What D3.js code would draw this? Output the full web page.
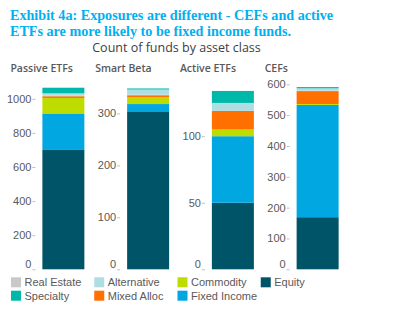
<!DOCTYPE html>
<html lang="en">
<head>
<meta charset="UTF-8">
<script src="https://d3js.org/d3.v7.min.js"></script>
<title>Count of funds by asset class</title>
<style>
  body {margin: 0; background: #fff;}
  svg text {font-family: "Liberation Sans", Arial, sans-serif;}
  .title {font-family: "Liberation Serif", "Times New Roman", serif !important; font-weight: bold; fill: #00b0f0; font-size: 14.5px;}
  .sub {font-family: "Open Sans", sans-serif !important; fill: #404040; font-size: 12.5px;}
  .panel {font-family: "Open Sans", sans-serif !important; fill: #595959; font-size: 10.5px; font-weight: 600;}
  .axis text {fill: #595959; font-size: 11px;}
  .axis line {stroke: #bfbfbf;}
  .legend text {fill: #595959; font-size: 11px;}
</style>
</head>
<body>
<svg></svg>
<script>
var categories = ["Passive ETFs", "Smart Beta", "Active ETFs", "CEFs"];
var seriesNames = ["Equity", "Fixed Income", "Commodity", "Mixed Alloc", "Real Estate", "Alternative", "Specialty"];
var equity      = [700, 304, 50, 169];
var fixedIncome = [214, 14, 50, 364];
var commodity   = [91, 13, 5, 3];
var mixedAlloc  = [10, 4, 14, 42];
var realEstate  = [3, 1, 0, 2];
var alternative = [14, 10, 6, 7];
var specialty   = [33, 2, 9, 4];
var axisMax = [1085, 356, 139, 600];
var tickValues = [[0, 200, 400, 600, 800, 1000], [0, 100, 200, 300], [0, 50, 100], [0, 100, 200, 300, 400, 500, 600]];
var legendOrder = ["Real Estate", "Alternative", "Commodity", "Equity", "Specialty", "Mixed Alloc", "Fixed Income"];

var colors = {
    "Equity": "#005468",
    "Fixed Income": "#00a7e1",
    "Commodity": "#bedc00",
    "Mixed Alloc": "#ff7000",
    "Real Estate": "#c8c8c8",
    "Alternative": "#aedee2",
    "Specialty": "#00b8aa"
};

var W = 415, H = 322;
var plotTop = 84.3, plotBottom = 269.3;
var barW = 42;

var svg = d3.select("svg").attr("width", W).attr("height", H);

// table for the stack
var rows = categories.map(function(c, i) {
    return {cat: c, "Equity": equity[i], "Fixed Income": fixedIncome[i], "Commodity": commodity[i],
        "Mixed Alloc": mixedAlloc[i], "Real Estate": realEstate[i], "Alternative": alternative[i], "Specialty": specialty[i]};
});
var stacked = d3.stack().keys(seriesNames)(rows);

var panelX = d3.scaleBand().domain(categories).range([21, 360]);

svg.append("text").attr("class", "title").attr("x", 10).attr("y", 19.5)
    .attr("textLength", 323).attr("lengthAdjust", "spacingAndGlyphs")
    .text("Exhibit 4a: Exposures are different - CEFs and active");
svg.append("text").attr("class", "title").attr("x", 10).attr("y", 35.5)
    .attr("textLength", 281).attr("lengthAdjust", "spacingAndGlyphs")
    .text("ETFs are more likely to be fixed income funds.");
svg.append("text").attr("class", "sub").attr("x", 176.5).attr("y", 51.5).attr("text-anchor", "middle")
    .text("Count of funds by asset class");

categories.forEach(function(cat, i) {
    var cx = panelX(cat) + panelX.bandwidth() / 2;
    var left = cx - barW / 2;
    var y = d3.scaleLinear().domain([0, axisMax[i]]).range([plotBottom, plotTop]);

    var g = svg.append("g");
    g.append("text").attr("class", "panel").attr("x", left - 32).attr("y", 72).text(cat);

    var ax = g.append("g").attr("class", "axis")
        .attr("transform", "translate(" + (left - 7) + ",0)")
        .call(d3.axisLeft(y).tickValues(tickValues[i]).tickFormat(d3.format("d")).tickSize(3).tickPadding(1));
    ax.select(".domain").remove();
    ax.selectAll("text").attr("dy", function(d) { return d === 0 ? "-0.2em" : "0.32em"; });

    stacked.forEach(function(s) {
        var d = s[i];
        if (d[1] - d[0] <= 0) return;
        g.append("rect")
            .attr("x", left).attr("width", barW)
            .attr("y", y(d[1])).attr("height", y(d[0]) - y(d[1]))
            .attr("fill", colors[s.key]);
    });
});

// legend
var lg = svg.append("g").attr("class", "legend");
var colX = d3.scaleBand().domain(d3.range(4)).range([11, 344]);
legendOrder.forEach(function(name, k) {
    var col = k < 4 ? k : k - 4;
    var row = k < 4 ? 0 : 1;
    var x = colX(col), yy = 282.3 + row * 13.4;
    lg.append("rect").attr("x", x).attr("y", yy - 5).attr("width", 10).attr("height", 10).attr("fill", colors[name]);
    lg.append("text").attr("x", x + 13.5).attr("y", yy).attr("dy", "0.35em").text(name);
});
</script>
</body>
</html>
